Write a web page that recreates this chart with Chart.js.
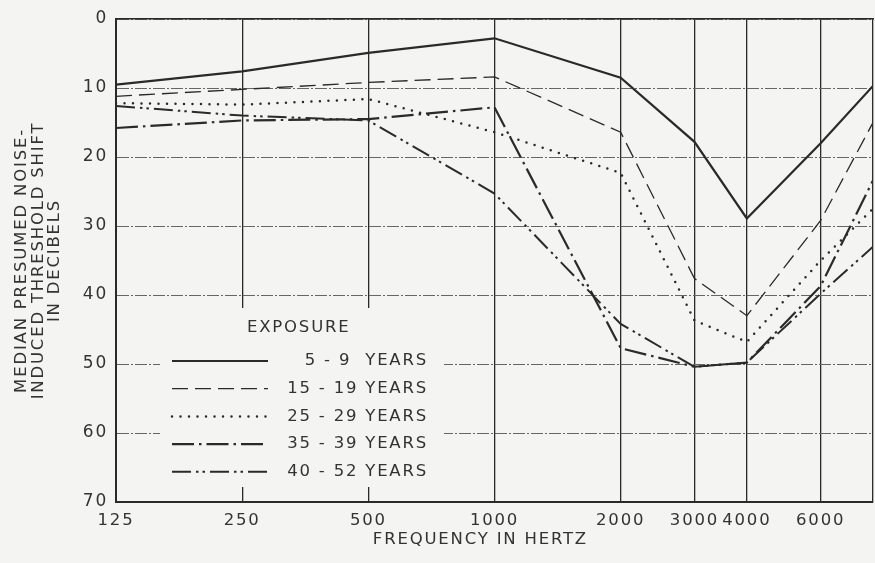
<!DOCTYPE html>
<html>
<head>
<meta charset="utf-8">
<script src="https://cdn.jsdelivr.net/npm/chart.js@4/dist/chart.umd.min.js"></script>
<style>
  html, body { margin: 0; padding: 0; background: #f4f4f2; }
  #wrap { width: 875px; height: 563px; position: relative; }
</style>
</head>
<body>
<div id="wrap"><canvas id="c" width="875" height="563"></canvas></div>
<script>
// ---- data ----
const frequencies = [125, 250, 500, 1000, 2000, 3000, 4000, 6000, 8000];
const xTickLabels = ['125', '250', '500', '1000', '2000', '3000', '4000', '6000', ''];
const yTicks = [0, 10, 20, 30, 40, 50, 60, 70];
const seriesNames = ['5 - 9  YEARS', '15 - 19 YEARS', '25 - 29 YEARS', '35 - 39 YEARS', '40 - 52 YEARS'];
const years5to9   = [9.5, 7.6, 4.9, 2.8, 8.5, 17.8, 28.9, 18.0, 9.7];
const years15to19 = [11.2, 10.2, 9.2, 8.4, 16.4, 37.6, 43.0, 29.2, 15.0];
const years25to29 = [12.2, 12.4, 11.6, 16.4, 22.3, 43.7, 46.8, 35.0, 27.5];
const years35to39 = [15.8, 14.7, 14.5, 12.8, 47.7, 50.4, 49.8, 38.7, 23.4];
const years40to52 = [12.6, 14.0, 14.7, 25.3, 44.2, 50.4, 49.8, 39.8, 33.0];
const legendTitle = 'EXPOSURE';
const xTitle = 'FREQUENCY IN HERTZ    ';
const yTitle = ['MEDIAN PRESUMED NOISE-', 'INDUCED THRESHOLD SHIFT', 'IN DECIBELS'];

// ---- styles ----
const bg = '#f4f4f2';
const ink = '#2a2a2a';
const textInk = '#333333';
const family = '"DejaVu Sans", sans-serif';
const fontSize = 16.5;

const styles = [
  { borderWidth: 2.2, borderDash: [] , borderCapStyle: 'butt' },
  { borderWidth: 1.3, borderDash: [16, 7], borderCapStyle: 'butt' },
  { borderWidth: 2.5, borderDash: [0, 8.5], borderCapStyle: 'round' },
  { borderWidth: 2.2, borderDash: [22, 5, 2.5, 5], borderCapStyle: 'butt' },
  { borderWidth: 2.0, borderDash: [19, 5, 2.5, 4, 2.5, 5], borderCapStyle: 'butt' }
];
const seriesValues = [years5to9, years15to19, years25to29, years35to39, years40to52];

const datasets = seriesValues.map((vals, i) => Object.assign({
  label: seriesNames[i],
  data: frequencies.map((f, j) => ({ x: f, y: vals[j] })),
  borderColor: ink,
  backgroundColor: ink,
  pointRadius: 0,
  pointHoverRadius: 0,
  tension: 0,
  fill: false,
  xAxisID: 'x',
  yAxisID: 'y'
}, styles[i]));

const legendRect = { left: 160, top: 308, right: 444, bottom: 487 };

const zeroPad = s => { s.paddingLeft = 0; s.paddingRight = 0; s.paddingTop = 0; s.paddingBottom = 0; };

const paperPlugin = {
  id: 'paper',
  beforeDraw(chart) {
    const ctx = chart.ctx;
    ctx.letterSpacing = '1.8px';
    ctx.save();
    ctx.fillStyle = bg;
    ctx.fillRect(0, 0, chart.width, chart.height);
    ctx.restore();
  },
  beforeDatasetsDraw(chart) {
    const ctx = chart.ctx;
    ctx.save();
    ctx.fillStyle = bg;
    ctx.fillRect(legendRect.left, legendRect.top, legendRect.right - legendRect.left, legendRect.bottom - legendRect.top);
    ctx.restore();
  },
  afterDatasetsDraw(chart) {
    const ctx = chart.ctx;
    ctx.save();
    ctx.letterSpacing = '1.8px';
    ctx.fillStyle = textInk;
    ctx.font = fontSize + 'px ' + family;
    ctx.textBaseline = 'middle';
    ctx.textAlign = 'left';
    ctx.fillText(legendTitle, 247, 328);
    chart.data.datasets.forEach((ds, i) => {
      const y = 361 + i * 27.7;
      ctx.save();
      ctx.strokeStyle = ds.borderColor;
      ctx.lineWidth = ds.borderWidth;
      ctx.setLineDash(ds.borderDash || []);
      ctx.lineCap = ds.borderCapStyle || 'butt';
      ctx.beginPath();
      ctx.moveTo(172, y);
      ctx.lineTo(268, y);
      ctx.stroke();
      ctx.restore();
      ctx.textAlign = 'right';
      ctx.fillText(ds.label, 428, y);
    });
    ctx.restore();
  }
};

new Chart(document.getElementById('c'), {
  type: 'line',
  data: { datasets },
  plugins: [paperPlugin],
  options: {
    responsive: false,
    animation: false,
    events: [],
    layout: { padding: { left: 0, right: 2, top: 19, bottom: 0 } },
    plugins: { legend: { display: false }, tooltip: { enabled: false } },
    scales: {
      x: {
        type: 'logarithmic',
        position: 'bottom',
        min: 125,
        max: 8000,
        afterBuildTicks: s => { s.ticks = frequencies.map(v => ({ value: v })); },
        afterFit: s => { s.height = 61; zeroPad(s); },
        ticks: {
          autoSkip: false, maxRotation: 0, minRotation: 0, padding: 9,
          color: textInk, font: { family, size: fontSize },
          callback: (v, i) => xTickLabels[i]
        },
        grid: { color: ink, lineWidth: 1.3, drawTicks: false },
        border: { color: ink, width: 2 },
        title: { display: true, text: xTitle, color: textInk, font: { family, size: fontSize }, padding: { top: 0, bottom: 13 } }
      },
      xTop: {
        type: 'linear',
        position: 'top',
        min: 0, max: 1,
        afterFit: s => { s.height = 0; zeroPad(s); },
        ticks: { display: false },
        grid: { display: false, drawTicks: false },
        border: { color: ink, width: 1.6 }
      },
      y: {
        type: 'linear',
        position: 'left',
        min: 0, max: 70,
        reverse: true,
        afterBuildTicks: s => { s.ticks = yTicks.map(v => ({ value: v })); },
        afterFit: s => { s.width = 116; zeroPad(s); },
        ticks: { padding: 8, color: textInk, font: { family, size: 17 } },
        grid: { color: '#666666', lineWidth: 1, drawTicks: false },
        border: { color: ink, width: 2, dash: [12, 2, 2, 2] },
        title: { display: true, text: yTitle, color: textInk, font: { family, size: fontSize, lineHeight: 1.02 }, padding: { top: 13, bottom: 0 } }
      }
    }
  }
});
</script>
</body>
</html>
